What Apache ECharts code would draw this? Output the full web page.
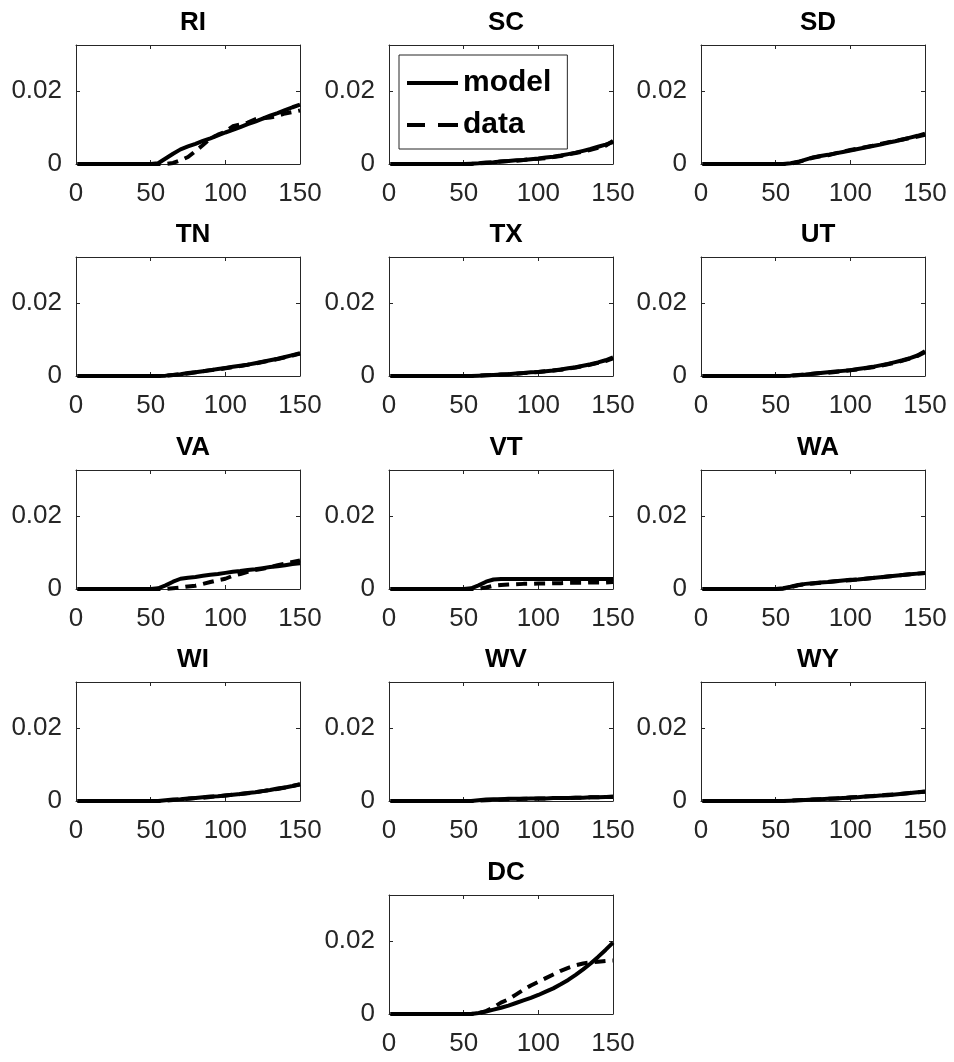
<!DOCTYPE html>
<html><head><meta charset="utf-8">
<script src="https://cdn.jsdelivr.net/npm/echarts@6/dist/echarts.min.js"></script>
<style>html,body{margin:0;padding:0;background:#fff}#c{width:954px;height:1062px}</style>
</head><body><div id="c"></div><script>
const days = [1,5,10,15,20,25,30,35,40,45,50,55,60,65,70,75,80,85,90,95,100,105,110,115,120,125,130,135,140,145,150];
const states = ['RI','SC','SD','TN','TX','UT','VA','VT','WA','WI','WV','WY','DC'];
const xTicks = [0,50,100,150];
const yTicks = [0,0.02];

const modelRI = [0,0,0,0,0,0,0,0,0,0,0,0.0002,0.0015,0.0028,0.0040,0.0048,0.0055,0.0063,0.0070,0.0078,0.0086,0.0093,0.0101,0.0109,0.0116,0.0124,0.0132,0.0139,0.0147,0.0155,0.0162];
const dataRI  = [0,0,0,0,0,0,0,0,0,0,0,0,0,0.0003,0.0010,0.0019,0.0035,0.0052,0.0070,0.0080,0.0088,0.0103,0.0108,0.0113,0.0122,0.0125,0.0127,0.0131,0.0138,0.0142,0.0146];
const modelSC = [0,0,0,0,0,0,0,0,0,0,0,0.0001,0.0002,0.0004,0.0005,0.0007,0.0008,0.0010,0.0011,0.0013,0.0015,0.0018,0.0020,0.0023,0.0027,0.0031,0.0036,0.0041,0.0047,0.0053,0.0060];
const dataSC  = [0,0,0,0,0,0,0,0,0,0,0,0,0.0002,0.0003,0.0005,0.0007,0.0008,0.0009,0.0011,0.0013,0.0014,0.0016,0.0019,0.0022,0.0026,0.0030,0.0034,0.0039,0.0044,0.0050,0.0063];
const modelSD = [0,0,0,0,0,0,0,0,0,0,0,0,0.0002,0.0006,0.0012,0.0018,0.0022,0.0025,0.0029,0.0033,0.0037,0.0041,0.0045,0.0049,0.0053,0.0058,0.0062,0.0067,0.0072,0.0077,0.0083];
const dataSD  = [0,0,0,0,0,0,0,0,0,0,0,0,0.0001,0.0005,0.0011,0.0017,0.0021,0.0024,0.0029,0.0034,0.0038,0.0042,0.0046,0.0050,0.0055,0.0059,0.0063,0.0067,0.0071,0.0075,0.0080];
const modelTN = [0,0,0,0,0,0,0,0,0,0,0,0,0.0001,0.0003,0.0005,0.0008,0.0010,0.0013,0.0016,0.0019,0.0022,0.0025,0.0028,0.0031,0.0035,0.0039,0.0043,0.0047,0.0052,0.0057,0.0062];
const dataTN  = [0,0,0,0,0,0,0,0,0,0,0,0,0.0001,0.0003,0.0005,0.0007,0.0010,0.0013,0.0016,0.0018,0.0021,0.0024,0.0027,0.0031,0.0034,0.0038,0.0042,0.0046,0.0051,0.0056,0.0061];
const modelTX = [0,0,0,0,0,0,0,0,0,0,0,0,0.0001,0.0002,0.0003,0.0004,0.0005,0.0007,0.0008,0.0010,0.0011,0.0013,0.0015,0.0018,0.0021,0.0024,0.0028,0.0032,0.0037,0.0043,0.0051];
const dataTX  = [0,0,0,0,0,0,0,0,0,0,0,0,0.0001,0.0002,0.0003,0.0004,0.0005,0.0006,0.0008,0.0009,0.0011,0.0013,0.0015,0.0017,0.0020,0.0023,0.0027,0.0031,0.0036,0.0041,0.0048];
const modelUT = [0,0,0,0,0,0,0,0,0,0,0,0,0.0001,0.0003,0.0004,0.0006,0.0008,0.0010,0.0012,0.0014,0.0016,0.0019,0.0022,0.0025,0.0029,0.0033,0.0038,0.0043,0.0049,0.0056,0.0068];
const dataUT  = [0,0,0,0,0,0,0,0,0,0,0,0,0.0001,0.0002,0.0004,0.0006,0.0008,0.0009,0.0011,0.0013,0.0016,0.0018,0.0021,0.0024,0.0028,0.0032,0.0036,0.0042,0.0048,0.0055,0.0065];
const modelVA = [0,0,0,0,0,0,0,0,0,0,0,0.0002,0.0010,0.0020,0.0028,0.0031,0.0033,0.0036,0.0039,0.0041,0.0044,0.0047,0.0049,0.0052,0.0054,0.0057,0.0060,0.0062,0.0065,0.0068,0.0070];
const dataVA  = [0,0,0,0,0,0,0,0,0,0,0,0,0,0.0002,0.0004,0.0007,0.0009,0.0014,0.0019,0.0024,0.0028,0.0036,0.0041,0.0047,0.0052,0.0055,0.0060,0.0065,0.0069,0.0074,0.0078];
const modelVT = [0,0,0,0,0,0,0,0,0,0,0,0.0002,0.0010,0.0020,0.0026,0.0027,0.0027,0.0027,0.0027,0.0027,0.0027,0.0027,0.0027,0.0027,0.0027,0.0027,0.0027,0.0027,0.0027,0.0027,0.0027];
const dataVT  = [0,0,0,0,0,0,0,0,0,0,0,0,0.0001,0.0004,0.0009,0.0011,0.0012,0.0013,0.0014,0.0014,0.0015,0.0015,0.0016,0.0016,0.0017,0.0017,0.0017,0.0018,0.0018,0.0018,0.0019];
const modelWA = [0,0,0,0,0,0,0,0,0,0,0,0.0002,0.0006,0.0011,0.0014,0.0016,0.0018,0.0019,0.0021,0.0023,0.0025,0.0026,0.0028,0.0030,0.0032,0.0034,0.0036,0.0038,0.0040,0.0042,0.0044];
const dataWA  = [0,0,0,0,0,0,0,0,0,0,0,0.0001,0.0005,0.0010,0.0013,0.0015,0.0017,0.0019,0.0021,0.0023,0.0024,0.0026,0.0028,0.0030,0.0032,0.0034,0.0036,0.0038,0.0040,0.0042,0.0044];
const modelWI = [0,0,0,0,0,0,0,0,0,0,0,0,0.0002,0.0004,0.0005,0.0007,0.0008,0.0010,0.0012,0.0013,0.0015,0.0017,0.0019,0.0022,0.0024,0.0027,0.0030,0.0034,0.0037,0.0041,0.0046];
const dataWI  = [0,0,0,0,0,0,0,0,0,0,0,0,0.0001,0.0003,0.0005,0.0006,0.0008,0.0009,0.0011,0.0013,0.0015,0.0017,0.0019,0.0021,0.0024,0.0027,0.0030,0.0033,0.0037,0.0041,0.0045];
const modelWV = [0,0,0,0,0,0,0,0,0,0,0,0,0.0002,0.0004,0.0005,0.0005,0.0006,0.0006,0.0006,0.0007,0.0007,0.0007,0.0008,0.0008,0.0008,0.0009,0.0009,0.0010,0.0010,0.0011,0.0011];
const dataWV  = [0,0,0,0,0,0,0,0,0,0,0,0,0.0001,0.0002,0.0003,0.0004,0.0005,0.0005,0.0006,0.0006,0.0007,0.0007,0.0008,0.0008,0.0008,0.0009,0.0009,0.0010,0.0010,0.0011,0.0012];
const modelWY = [0,0,0,0,0,0,0,0,0,0,0,0,0.0001,0.0002,0.0003,0.0004,0.0005,0.0006,0.0007,0.0008,0.0009,0.0010,0.0012,0.0013,0.0015,0.0016,0.0018,0.0020,0.0022,0.0024,0.0026];
const dataWY  = [0,0,0,0,0,0,0,0,0,0,0,0,0.0001,0.0002,0.0003,0.0004,0.0005,0.0006,0.0007,0.0008,0.0010,0.0011,0.0012,0.0014,0.0015,0.0017,0.0018,0.0020,0.0022,0.0024,0.0025];
const modelDC = [0,0,0,0,0,0,0,0,0,0,0,0,0.0003,0.0007,0.0012,0.0017,0.0023,0.0030,0.0037,0.0044,0.0052,0.0061,0.0070,0.0081,0.0093,0.0107,0.0122,0.0138,0.0156,0.0175,0.0195];
const dataDC  = [0,0,0,0,0,0,0,0,0,0,0,0,0.0002,0.0008,0.0018,0.0031,0.0040,0.0053,0.0066,0.0078,0.0088,0.0098,0.0108,0.0118,0.0126,0.0133,0.0138,0.0141,0.0143,0.0145,0.0146];

const panelSeries = {
  RI:[modelRI,dataRI], SC:[modelSC,dataSC], SD:[modelSD,dataSD], TN:[modelTN,dataTN],
  TX:[modelTX,dataTX], UT:[modelUT,dataUT], VA:[modelVA,dataVA], VT:[modelVT,dataVT],
  WA:[modelWA,dataWA], WI:[modelWI,dataWI], WV:[modelWV,dataWV], WY:[modelWY,dataWY],
  DC:[modelDC,dataDC]
};

const colLeft = [76, 389, 701];
const rowTop = [45, 257, 470, 682, 895];
const W = 224, H = 119;
const YMAX = 0.0325;
const axisColor = '#262626';
const FONT = '"Liberation Sans", Arial, Helvetica, sans-serif';

const grids = [], xAxes = [], yAxes = [], series = [], titles = [];
states.forEach((st, i) => {
  let left, top;
  if (i < 12) { left = colLeft[i % 3]; top = rowTop[Math.floor(i / 3)]; }
  else { left = colLeft[1]; top = rowTop[4]; }
  grids.push({left: left, top: top, width: W, height: H, outerBoundsMode: 'none', containLabel: false,
    show: false});
  titles.push({text: st, left: left + W / 2, top: top - 40, textAlign: 'center',
    textStyle: {fontFamily: FONT, fontSize: 26, fontWeight: 'bold', color: '#000'}});
  const tickStyle = {show: true, inside: true, length: 4, lineStyle: {color: axisColor, width: 1}};
  const lineStyle = {show: true, onZero: false, lineStyle: {color: axisColor, width: 1}};
  xAxes.push({gridIndex: i, type: 'value', position: 'bottom', min: 0, max: 150, interval: 50,
    axisLine: lineStyle, axisTick: tickStyle, splitLine: {show: false},
    axisLabel: {show: true, margin: 17, fontSize: 26, fontFamily: FONT, color: axisColor,
      formatter: v => xTicks.includes(v) ? String(v) : ''}});
  xAxes.push({gridIndex: i, type: 'value', position: 'top', min: 0, max: 150, interval: 50,
    axisLine: lineStyle, axisTick: tickStyle, splitLine: {show: false}, axisLabel: {show: false}});
  yAxes.push({gridIndex: i, type: 'value', position: 'left', min: 0, max: YMAX, interval: 0.02,
    axisLine: lineStyle, axisTick: tickStyle, splitLine: {show: false},
    axisLabel: {show: true, margin: 14, fontSize: 26, fontFamily: FONT, color: axisColor, showMaxLabel: false,
      formatter: v => { for (const t of yTicks) { if (Math.abs(v - t) < 1e-9) return String(t); } return ''; }}});
  yAxes.push({gridIndex: i, type: 'value', position: 'right', min: 0, max: YMAX, interval: 0.02,
    axisLine: lineStyle, axisTick: tickStyle, splitLine: {show: false}, axisLabel: {show: false}});
  const [m, d] = panelSeries[st];
  series.push({name: 'model', type: 'line', xAxisIndex: 2 * i, yAxisIndex: 2 * i, symbol: 'none',
    clip: false, silent: true, z: 3, itemStyle: {color: '#000'},
    lineStyle: {color: '#000', width: 4, type: 'solid'},
    data: days.map((x, j) => [x, m[j]])});
  series.push({name: 'data', type: 'line', xAxisIndex: 2 * i, yAxisIndex: 2 * i, symbol: 'none',
    clip: false, silent: true, z: 2, itemStyle: {color: '#000'},
    lineStyle: {color: '#000', width: 4, type: [11, 7]},
    data: days.map((x, j) => [x, d[j]])});
});

const chart = echarts.init(document.getElementById('c'), null, {renderer: 'canvas'});
chart.setOption({
  backgroundColor: '#fff',
  animation: false,
  title: titles,
  grid: grids,
  xAxis: xAxes,
  yAxis: yAxes,
  legend: {
    left: 399, top: 55, orient: 'vertical', selectedMode: false,
    padding: [13, 16, 9, 8], itemGap: 12, itemWidth: 51, itemHeight: 4,
    borderColor: axisColor, borderWidth: 1, backgroundColor: '#fff',
    itemStyle: {color: '#000', borderWidth: 0},
    textStyle: {fontFamily: FONT, fontSize: 30, lineHeight: 30, fontWeight: 'bold', color: '#000'},
    data: [
      {name: 'model', icon: 'rect', itemStyle: {color: '#000', borderWidth: 0}},
      {name: 'data', icon: 'path://M0,0h18v4h-18zM31,0h20v4h-20z', itemStyle: {color: '#000', borderWidth: 0}}
    ]
  },
  series: series
});
</script></body></html>
